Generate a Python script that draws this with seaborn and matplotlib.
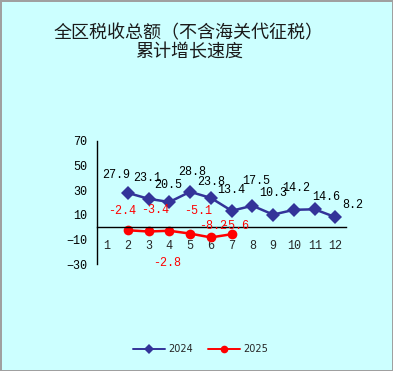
import pandas as pd
import matplotlib
matplotlib.use("Agg")
import matplotlib.pyplot as plt
import seaborn as sns

# data
months = list(range(1, 13))
months_2024 = [2, 3, 4, 5, 6, 7, 8, 9, 10, 11, 12]
growth_2024 = [27.9, 23.1, 20.5, 28.8, 23.8, 13.4, 17.5, 10.3, 14.2, 14.6, 8.2]
months_2025 = [2, 3, 4, 5, 6, 7]
growth_2025 = [-2.4, -3.4, -2.8, -5.1, -8.2, -5.6]
y_ticks = [-30, -10, 10, 30, 50, 70]
title = "全区税收总额（不含海关代征税）\n累计增长速度"

# label placement (pixel offsets from each point)
off_2024 = [(-12, 18), (-1, 21), (-1, 17), (2, 20), (0, 16), (0, 21),
            (4, 25), (0, 22), (2, 22), (11, 12), (17, 12)]
off_2025 = [(-6, 19), (7, 21), (-2, -32), (8, 23), (2, 11), (3, 8)]

BG = "#ccffff"
BLUE = "#333399"
RED = "#ff0000"

df = pd.concat([
    pd.DataFrame({"month": months_2024, "value": growth_2024, "year": "2024"}),
    pd.DataFrame({"month": months_2025, "value": growth_2025, "year": "2025"}),
])

sns.set_style("white")
plt.rcParams["font.family"] = ["Noto Sans CJK SC", "DejaVu Sans"]

fig = plt.figure(figsize=(3.93, 3.71), dpi=100, facecolor=BG,
                 edgecolor="#a0a0a0", linewidth=1)
ax = fig.add_axes([0.246, 0.2876, 0.634, 0.3324])
ax.set_facecolor(BG)

sns.lineplot(data=df, x="month", y="value", hue="year", style="year",
             palette={"2024": BLUE, "2025": RED},
             markers={"2024": "D", "2025": "o"}, dashes=False,
             markersize=7, linewidth=1.8, markeredgewidth=0, ax=ax)

mono = "Liberation Mono"
for m, v, (dx, dy) in zip(months_2024, growth_2024, off_2024):
    ax.annotate(f"{v}", (m, v), xytext=(dx, dy), textcoords="offset pixels",
                ha="center", va="center", fontsize=8.5, family=mono, color="black")
for m, v, (dx, dy) in zip(months_2025, growth_2025, off_2025):
    ax.annotate(f"{v}", (m, v), xytext=(dx, dy), textcoords="offset pixels",
                ha="center", va="center", fontsize=8.5, family=mono, color=RED)

ax.set_xlim(0.5, 12.5)
ax.set_ylim(-30, 70)
ax.set_yticks(y_ticks)
ax.set_xticks(months)
ax.set_xticks([m + 0.5 for m in range(0, 13)], minor=True)
ax.set_xlabel("")
ax.set_ylabel("")

for s in ["top", "right"]:
    ax.spines[s].set_visible(False)
ax.spines["bottom"].set_position(("data", 0))
ax.spines["left"].set_color("black")
ax.spines["bottom"].set_color("black")
ax.spines["left"].set_linewidth(1)
ax.spines["bottom"].set_linewidth(1)

ax.tick_params(axis="y", direction="in", length=5, width=1, pad=7,
               labelsize=8.5, colors="black")
ax.tick_params(axis="x", which="major", length=0, pad=9, labelsize=8.5)
ax.tick_params(axis="x", which="minor", direction="in", length=5, width=1)
for lab in ax.get_xticklabels() + ax.get_yticklabels():
    lab.set_family(mono)

fig.text(0.48, 0.885, title, ha="center", va="center", fontsize=13,
         color="#1a1a1a", linespacing=1.05)

handles, labels = ax.get_legend_handles_labels()
ax.legend_.remove()
for h in handles:
    h.set_markersize(5.5)
    h.set_linewidth(1.4)
fig.legend(handles, labels, loc="center", bbox_to_anchor=(0.51, 0.059), ncol=2,
           frameon=False, handlelength=3.3, columnspacing=1.6,
           handletextpad=0.3, prop={"family": "DejaVu Sans", "size": 7})

fig.savefig("out.png", dpi=100, facecolor=BG, edgecolor="#a0a0a0")
